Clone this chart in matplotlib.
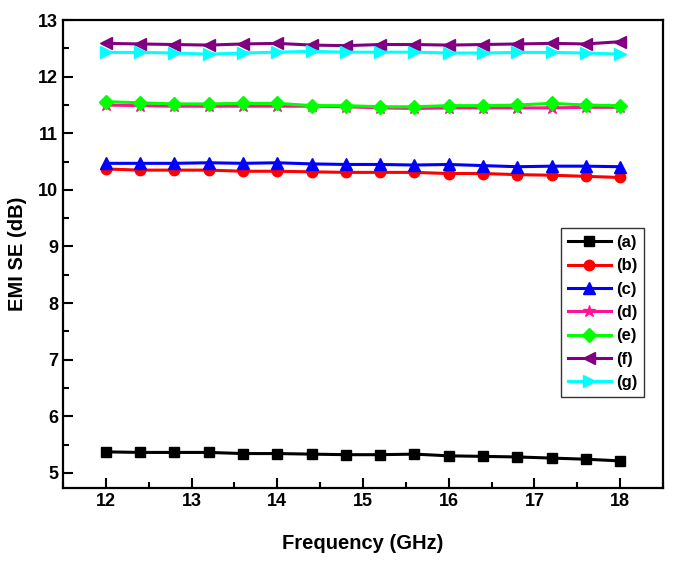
import numpy as np
import matplotlib
matplotlib.use("Agg")
import matplotlib.pyplot as plt
from matplotlib.ticker import MultipleLocator

plt.rcParams['font.family'] = ['Liberation Sans', 'DejaVu Sans']
plt.rcParams['font.weight'] = 'bold'

freq = np.arange(12, 18.01, 0.4)

se_a = [5.37, 5.36, 5.36, 5.36, 5.34, 5.34, 5.33, 5.32, 5.32, 5.33, 5.30, 5.29, 5.28, 5.26, 5.24, 5.21]
se_b = [10.37, 10.35, 10.35, 10.35, 10.33, 10.33, 10.32, 10.31, 10.31, 10.31, 10.29, 10.29, 10.27, 10.26, 10.24, 10.22]
se_c = [10.47, 10.47, 10.47, 10.48, 10.47, 10.48, 10.46, 10.45, 10.45, 10.44, 10.45, 10.43, 10.41, 10.42, 10.42, 10.41]
se_d = [11.50, 11.49, 11.48, 11.48, 11.48, 11.48, 11.48, 11.47, 11.45, 11.44, 11.45, 11.45, 11.45, 11.45, 11.46, 11.46]
se_e = [11.56, 11.54, 11.52, 11.52, 11.53, 11.53, 11.49, 11.49, 11.47, 11.47, 11.49, 11.49, 11.50, 11.53, 11.50, 11.49]
se_f = [12.59, 12.58, 12.57, 12.56, 12.58, 12.59, 12.56, 12.55, 12.57, 12.57, 12.56, 12.57, 12.58, 12.59, 12.58, 12.62]
se_g = [12.43, 12.43, 12.42, 12.40, 12.42, 12.435, 12.45, 12.435, 12.435, 12.435, 12.42, 12.42, 12.43, 12.43, 12.42, 12.40]

series = [
    ("(a)", se_a, "black", "s", 6.5),
    ("(b)", se_b, "red", "o", 7.5),
    ("(c)", se_c, "blue", "^", 8),
    ("(d)", se_d, "#ff1493", "*", 9),
    ("(e)", se_e, "#00ff00", "D", 7),
    ("(f)", se_f, "#800080", "<", 8),
    ("(g)", se_g, "cyan", ">", 8),
]

fig = plt.figure(figsize=(6.85, 5.61), dpi=100)
ax = fig.add_axes([0.092, 0.130, 0.876, 0.834])

for label, vals, color, marker, ms in series:
    ax.plot(freq, vals, color=color, marker=marker, markersize=ms, linewidth=2.2, label=label)

ax.set_xlim(11.5, 18.5)
ax.set_ylim(4.73, 13.0)
ax.xaxis.set_major_locator(MultipleLocator(1))
ax.xaxis.set_minor_locator(MultipleLocator(0.5))
ax.yaxis.set_major_locator(MultipleLocator(1))
ax.yaxis.set_minor_locator(MultipleLocator(0.5))
ax.tick_params(which='both', direction='in', width=1.5, labelsize=13)
ax.tick_params(which='major', length=7)
ax.tick_params(which='minor', length=4)
for sp in ax.spines.values():
    sp.set_linewidth(1.6)

ax.set_xlabel("Frequency (GHz)", fontsize=14.5, fontweight='bold', labelpad=17)
ax.set_ylabel("EMI SE (dB)", fontsize=14.5, fontweight='bold', labelpad=8)

leg = ax.legend(loc='center right', bbox_to_anchor=(0.982, 0.375), fontsize=12,
                fancybox=False, edgecolor='black', handlelength=2.6,
                labelspacing=0.5, borderpad=0.4, handletextpad=0.3)
leg.get_frame().set_linewidth(1.0)

fig.savefig("out.png", dpi=100)
